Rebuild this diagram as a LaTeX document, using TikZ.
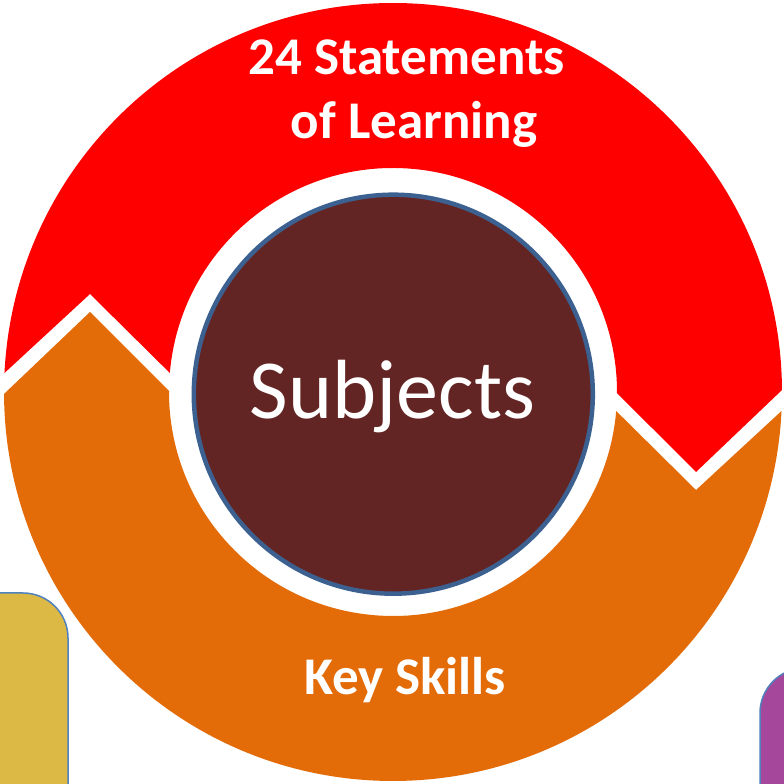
\documentclass[tikz,border=0pt]{standalone}
\usepackage{fontspec}
\setmainfont{Carlito}
\definecolor{ringred}{HTML}{FF0000}
\definecolor{ringorange}{HTML}{E36C09}
\definecolor{coreC}{HTML}{632523}
\definecolor{coreedge}{HTML}{3C6190}
\definecolor{boxyellow}{HTML}{DCB945}
\definecolor{boxpurple}{HTML}{A5479B}
\definecolor{boxedge}{HTML}{4F81BD}
\begin{document}
\begin{tikzpicture}[x=1pt,y=1pt,
  labeltext/.style={text=white,inner sep=0pt,anchor=base,font=\bfseries\fontsize{53}{64}\selectfont},
  sidebox/.style={draw=boxedge,line width=1.5pt,rounded corners=45pt}]
\fill[white] (0,0) rectangle (784,784);
\useasboundingbox (0,0) rectangle (784,784);
\clip (0,0) rectangle (784,784);
\coordinate (C) at (393,392);
% side boxes
\path[sidebox,fill=boxyellow] (-120,-120) rectangle (68,191);
\path[sidebox,fill=boxpurple] (760,-120) rectangle (920,116);
% red arrow segment (top)
\def\arrowseg{
  ([shift={(C)}]0.29:389) arc[start angle=0.29,end angle=177.2,radius=389]
  -- (90,490) -- ([shift={(C)}]175.13:224)
  arc[start angle=175.13,end angle=-0.26,radius=224]
  -- (696,312) -- cycle}
\fill[ringred] \arrowseg;
\begin{scope}[rotate around={180:(393,392)}]
\fill[ringorange] \arrowseg;
\end{scope}
% core
\node[circle,minimum size=399pt,inner sep=0pt,fill=coreC,draw=coreedge,line width=4.5pt] (core) at (393.3,389.8) {};
\node[text=white,inner sep=0pt,anchor=base,font=\fontsize{84}{100}\selectfont] (subj) at (392.5,365) {Subjects};
\node[labeltext] (sol1) at (406.5,709) {24 Statements};
\node[labeltext] (sol2) at (414,645) {of Learning};
\node[labeltext] (keys) at (405,89) {Key Skills};
\end{tikzpicture}
\end{document}
